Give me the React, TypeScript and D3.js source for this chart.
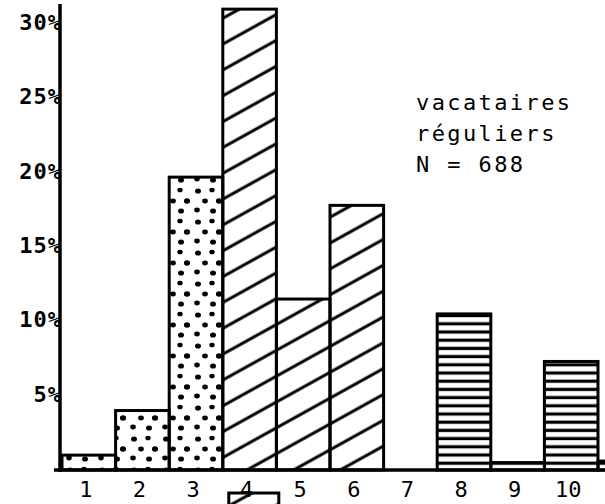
import React from 'react';
import * as d3 from 'd3';

// class values (% of vacataires réguliers)
const categories = ['1', '2', '3', '4', '5', '6', '7', '8', '9', '10', '11'];
const percents = [1, 4, 19.7, 31, 11.5, 17.8, 0, 10.5, 0.5, 7.3, 0.6];
// which shading family each class belongs to
const groups = ['a', 'a', 'a', 'b', 'b', 'b', 'b', 'c', 'c', 'c', 'c'];
const xLabels = ['1', '2', '3', '4', '5', '6', '7', '8', '9', '10'];
const yTicks = [5, 10, 15, 20, 25, 30];
const noteLines = ['vacataires', 'réguliers', 'N = 688'];

const W = 605;
const H = 504;
const FONT = '"DejaVu Sans Mono", "Liberation Mono", monospace';

const patternFor: Record<string, string> = { a: 'url(#dots)', b: 'url(#hatch)', c: 'url(#lines)' };

// hand-placed stipple in one tile
const dotTile = [
  [6, 5, 3.0], [20, 4, 2.7], [27, 15, 3.1], [13, 15, 2.9],
  [5, 24, 2.8], [21, 25, 3.0],
];

const App = () => {
  const x = d3.scaleBand<string>()
    .domain(categories)
    .range([62, 62 + categories.length * 53.6])
    .padding(0);

  const y = d3.scaleLinear().domain([0, 30]).range([470, 24]);

  const bars = categories.map((c, i) => ({ c, v: percents[i], g: groups[i] }))
    .filter(d => d.v > 0);

  return (
    <div style={{ position: 'absolute', left: 0, top: 0 }}>
      <svg width={W} height={H} style={{ display: 'block', background: '#fff' }}>
        <defs>
          <pattern id="dots" width={32} height={31} patternUnits="userSpaceOnUse">
            {dotTile.map(([cx, cy, r], i) => (
              <ellipse key={i} cx={cx} cy={cy} rx={r} ry={r * 0.85} fill="#000" />
            ))}
          </pattern>
          <pattern id="hatch" width={12} height={22.6} patternUnits="userSpaceOnUse"
            patternTransform="rotate(-29)">
            <line x1={0} y1={11} x2={12} y2={11} stroke="#000" strokeWidth={3} />
          </pattern>
          <pattern id="lines" width={10} height={8.2} patternUnits="userSpaceOnUse">
            <line x1={0} y1={4} x2={10} y2={4} stroke="#000" strokeWidth={3.2} />
          </pattern>
        </defs>

        {/* bars */}
        {bars.map(d => (
          <rect key={d.c}
            x={x(d.c)!}
            y={y(d.v)}
            width={x.bandwidth()}
            height={y(0) - y(d.v)}
            fill={patternFor[d.g]}
            stroke="#000"
            strokeWidth={3}
          />
        ))}

        {/* axes */}
        <line x1={60} y1={4} x2={60} y2={472} stroke="#000" strokeWidth={3.5} />
        <line x1={54} y1={470} x2={W} y2={470} stroke="#000" strokeWidth={3.5} />

        {yTicks.map(t => (
          <text key={t} x={62} y={y(t)} textAnchor="end" dominantBaseline="middle"
            fontFamily={FONT} fontSize={22} fontWeight="bold" letterSpacing={1} fill="#000">
            {t}%
          </text>
        ))}

        {xLabels.map(l => (
          <text key={l} x={x(l)! + x.bandwidth() / 2 - 3} y={491} textAnchor="middle"
            dominantBaseline="middle" fontFamily={FONT} fontSize={22} fill="#000">
            {l}
          </text>
        ))}

        {/* cropped legend swatch under class 4 */}
        <rect x={x('4')! + 6} y={493} width={50} height={20}
          fill="url(#hatch)" stroke="#000" strokeWidth={3} />

        {/* note */}
        {noteLines.map((s, i) => (
          <text key={s} x={416} y={110 + i * 31} fontFamily={FONT} fontSize={22}
            letterSpacing={2.4} fill="#000">
            {s}
          </text>
        ))}
      </svg>
    </div>
  );
};

export default App;
